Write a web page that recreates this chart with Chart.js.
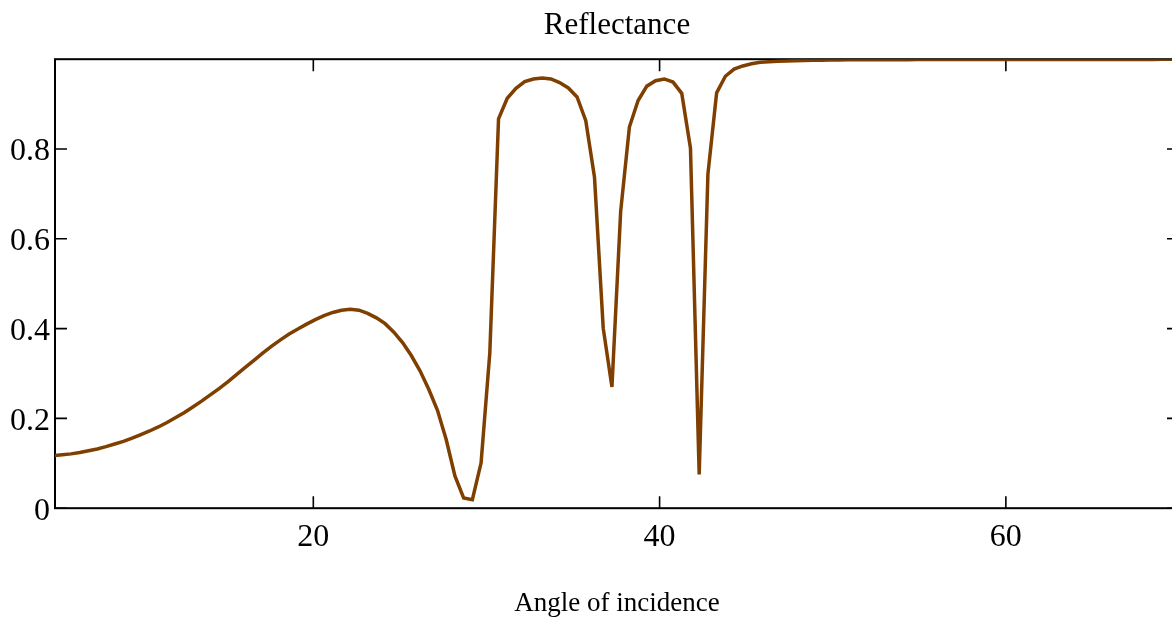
<!DOCTYPE html>
<html>
<head>
<meta charset="utf-8">
<title>Reflectance</title>
<script src="https://cdn.jsdelivr.net/npm/chart.js@4.4.1/dist/chart.umd.min.js"></script>
<style>
    html, body { margin: 0; padding: 0; background: #fff; overflow: hidden; }
    #wrap { position: absolute; left: 0; top: 0; width: 1190px; height: 620px; }
</style>
</head>
<body>
<div id="wrap"><canvas id="reflChart"></canvas></div>
<script>
// ==============================
// Datos
// ==============================
const angleMin = 5;      // primer ángulo muestreado
const angleMax = 70;     // último ángulo muestreado

const reflectance = [
    0.117, 0.119, 0.121, 0.124, 0.128, 0.132, 0.137, 0.143, 0.149, 0.156,
    0.164, 0.172, 0.181, 0.191, 0.202, 0.213, 0.226, 0.239, 0.253, 0.267,
    0.282, 0.298, 0.314, 0.330, 0.346, 0.361, 0.375, 0.388, 0.399, 0.410,
    0.420, 0.429, 0.436, 0.441, 0.443, 0.441, 0.434, 0.424, 0.411, 0.392,
    0.369, 0.340, 0.306, 0.265, 0.218, 0.153, 0.072, 0.023, 0.019, 0.101,
    0.346, 0.867, 0.913, 0.935, 0.950, 0.956, 0.958, 0.956, 0.948, 0.936,
    0.916, 0.863, 0.737, 0.401, 0.270, 0.661, 0.849, 0.908, 0.940, 0.952,
    0.956, 0.949, 0.924, 0.802, 0.075, 0.744, 0.925, 0.962, 0.978, 0.985,
    0.990, 0.993, 0.9945, 0.9955, 0.9962, 0.9968, 0.9972, 0.9976, 0.9979, 0.9981,
    0.9983, 0.9985, 0.9986, 0.9987, 0.9988, 0.9989, 0.9989, 0.9990, 0.9990, 0.9991,
    0.9991, 0.9992, 0.9992, 0.9992, 0.9993, 0.9993, 0.9993, 0.9993, 0.9994, 0.9994,
    0.9994, 0.9994, 0.9994, 0.9995, 0.9995, 0.9995, 0.9995, 0.9995, 0.9995, 0.9996,
    0.9996, 0.9996, 0.9996, 0.9996, 0.9996, 0.9996, 0.9996, 0.9997, 0.9997, 0.9997
];

// ángulos equiespaciados entre angleMin y angleMax
const angles = reflectance.map((_, i) => angleMin + i * (angleMax - angleMin) / (reflectance.length - 1));

const xTicks = [20, 40, 60];
const yTicks = [0, 0.2, 0.4, 0.6, 0.8];

const lineColor = '#7f3f00';
const serif = '"Liberation Serif", "Times New Roman", serif';

// ==============================
// Marco y marcas hacia dentro
// ==============================
const framePlugin = {
    id: 'frame',
    beforeDatasetsDraw(chart) {
        const { ctx, chartArea: a, scales } = chart;
        const len = 12;
        ctx.save();
        ctx.strokeStyle = '#000';
        ctx.lineWidth = 2;
        ctx.strokeRect(a.left, a.top, a.right - a.left, a.bottom - a.top);
        ctx.lineWidth = 1.6;
        ctx.beginPath();
        xTicks.forEach(v => {
            const px = scales.x.getPixelForValue(v);
            ctx.moveTo(px, a.bottom); ctx.lineTo(px, a.bottom - len);
            ctx.moveTo(px, a.top); ctx.lineTo(px, a.top + len);
        });
        yTicks.forEach(v => {
            const py = scales.y.getPixelForValue(v);
            ctx.moveTo(a.left, py); ctx.lineTo(a.left + len, py);
            ctx.moveTo(a.right, py); ctx.lineTo(a.right - len, py);
        });
        ctx.stroke();
        ctx.restore();
    }
};

document.addEventListener('DOMContentLoaded', () => {
    const ctx = document.getElementById('reflChart');
    new Chart(ctx, {
        type: 'line',
        data: {
            datasets: [{
                label: 'Reflectance',
                data: angles.map((a, i) => ({ x: a, y: reflectance[i] })),
                borderColor: lineColor,
                borderWidth: 3.5,
                pointRadius: 0,
                tension: 0,
                fill: false
            }]
        },
        options: {
            responsive: true,
            maintainAspectRatio: false,
            animation: false,
            events: [],
            layout: { padding: { left: 0, right: 11, top: 0, bottom: 0 } },
            plugins: {
                legend: { display: false },
                tooltip: { enabled: false },
                title: {
                    display: true,
                    fullSize: false,
                    text: 'Reflectance',
                    color: '#000',
                    font: { family: serif, size: 31, weight: 'normal' },
                    padding: { top: 7, bottom: 15 }
                }
            },
            scales: {
                x: {
                    type: 'linear',
                    min: 5.08,
                    max: 70,
                    afterBuildTicks: s => { s.ticks = xTicks.map(v => ({ value: v })); },
                    grid: { display: false, drawTicks: false },
                    border: { display: false },
                    ticks: {
                        color: '#000',
                        padding: 10.5,
                        maxRotation: 0,
                        font: { family: serif, size: 32 },
                        callback: v => String(v)
                    },
                    title: {
                        display: true,
                        text: 'Angle of incidence',
                        color: '#000',
                        font: { family: serif, size: 27 },
                        padding: { top: 20, bottom: 0 }
                    }
                },
                y: {
                    type: 'linear',
                    min: 0,
                    max: 1,
                    afterBuildTicks: s => { s.ticks = yTicks.map(v => ({ value: v })); },
                    afterFit: s => { s.width = 55; },
                    grid: { display: false, drawTicks: false },
                    border: { display: false },
                    ticks: {
                        color: '#000',
                        padding: 5,
                        labelOffset: 3,
                        font: { family: serif, size: 32 },
                        callback: v => String(v)
                    }
                }
            }
        },
        plugins: [framePlugin]
    });
});
</script>
</body>
</html>
